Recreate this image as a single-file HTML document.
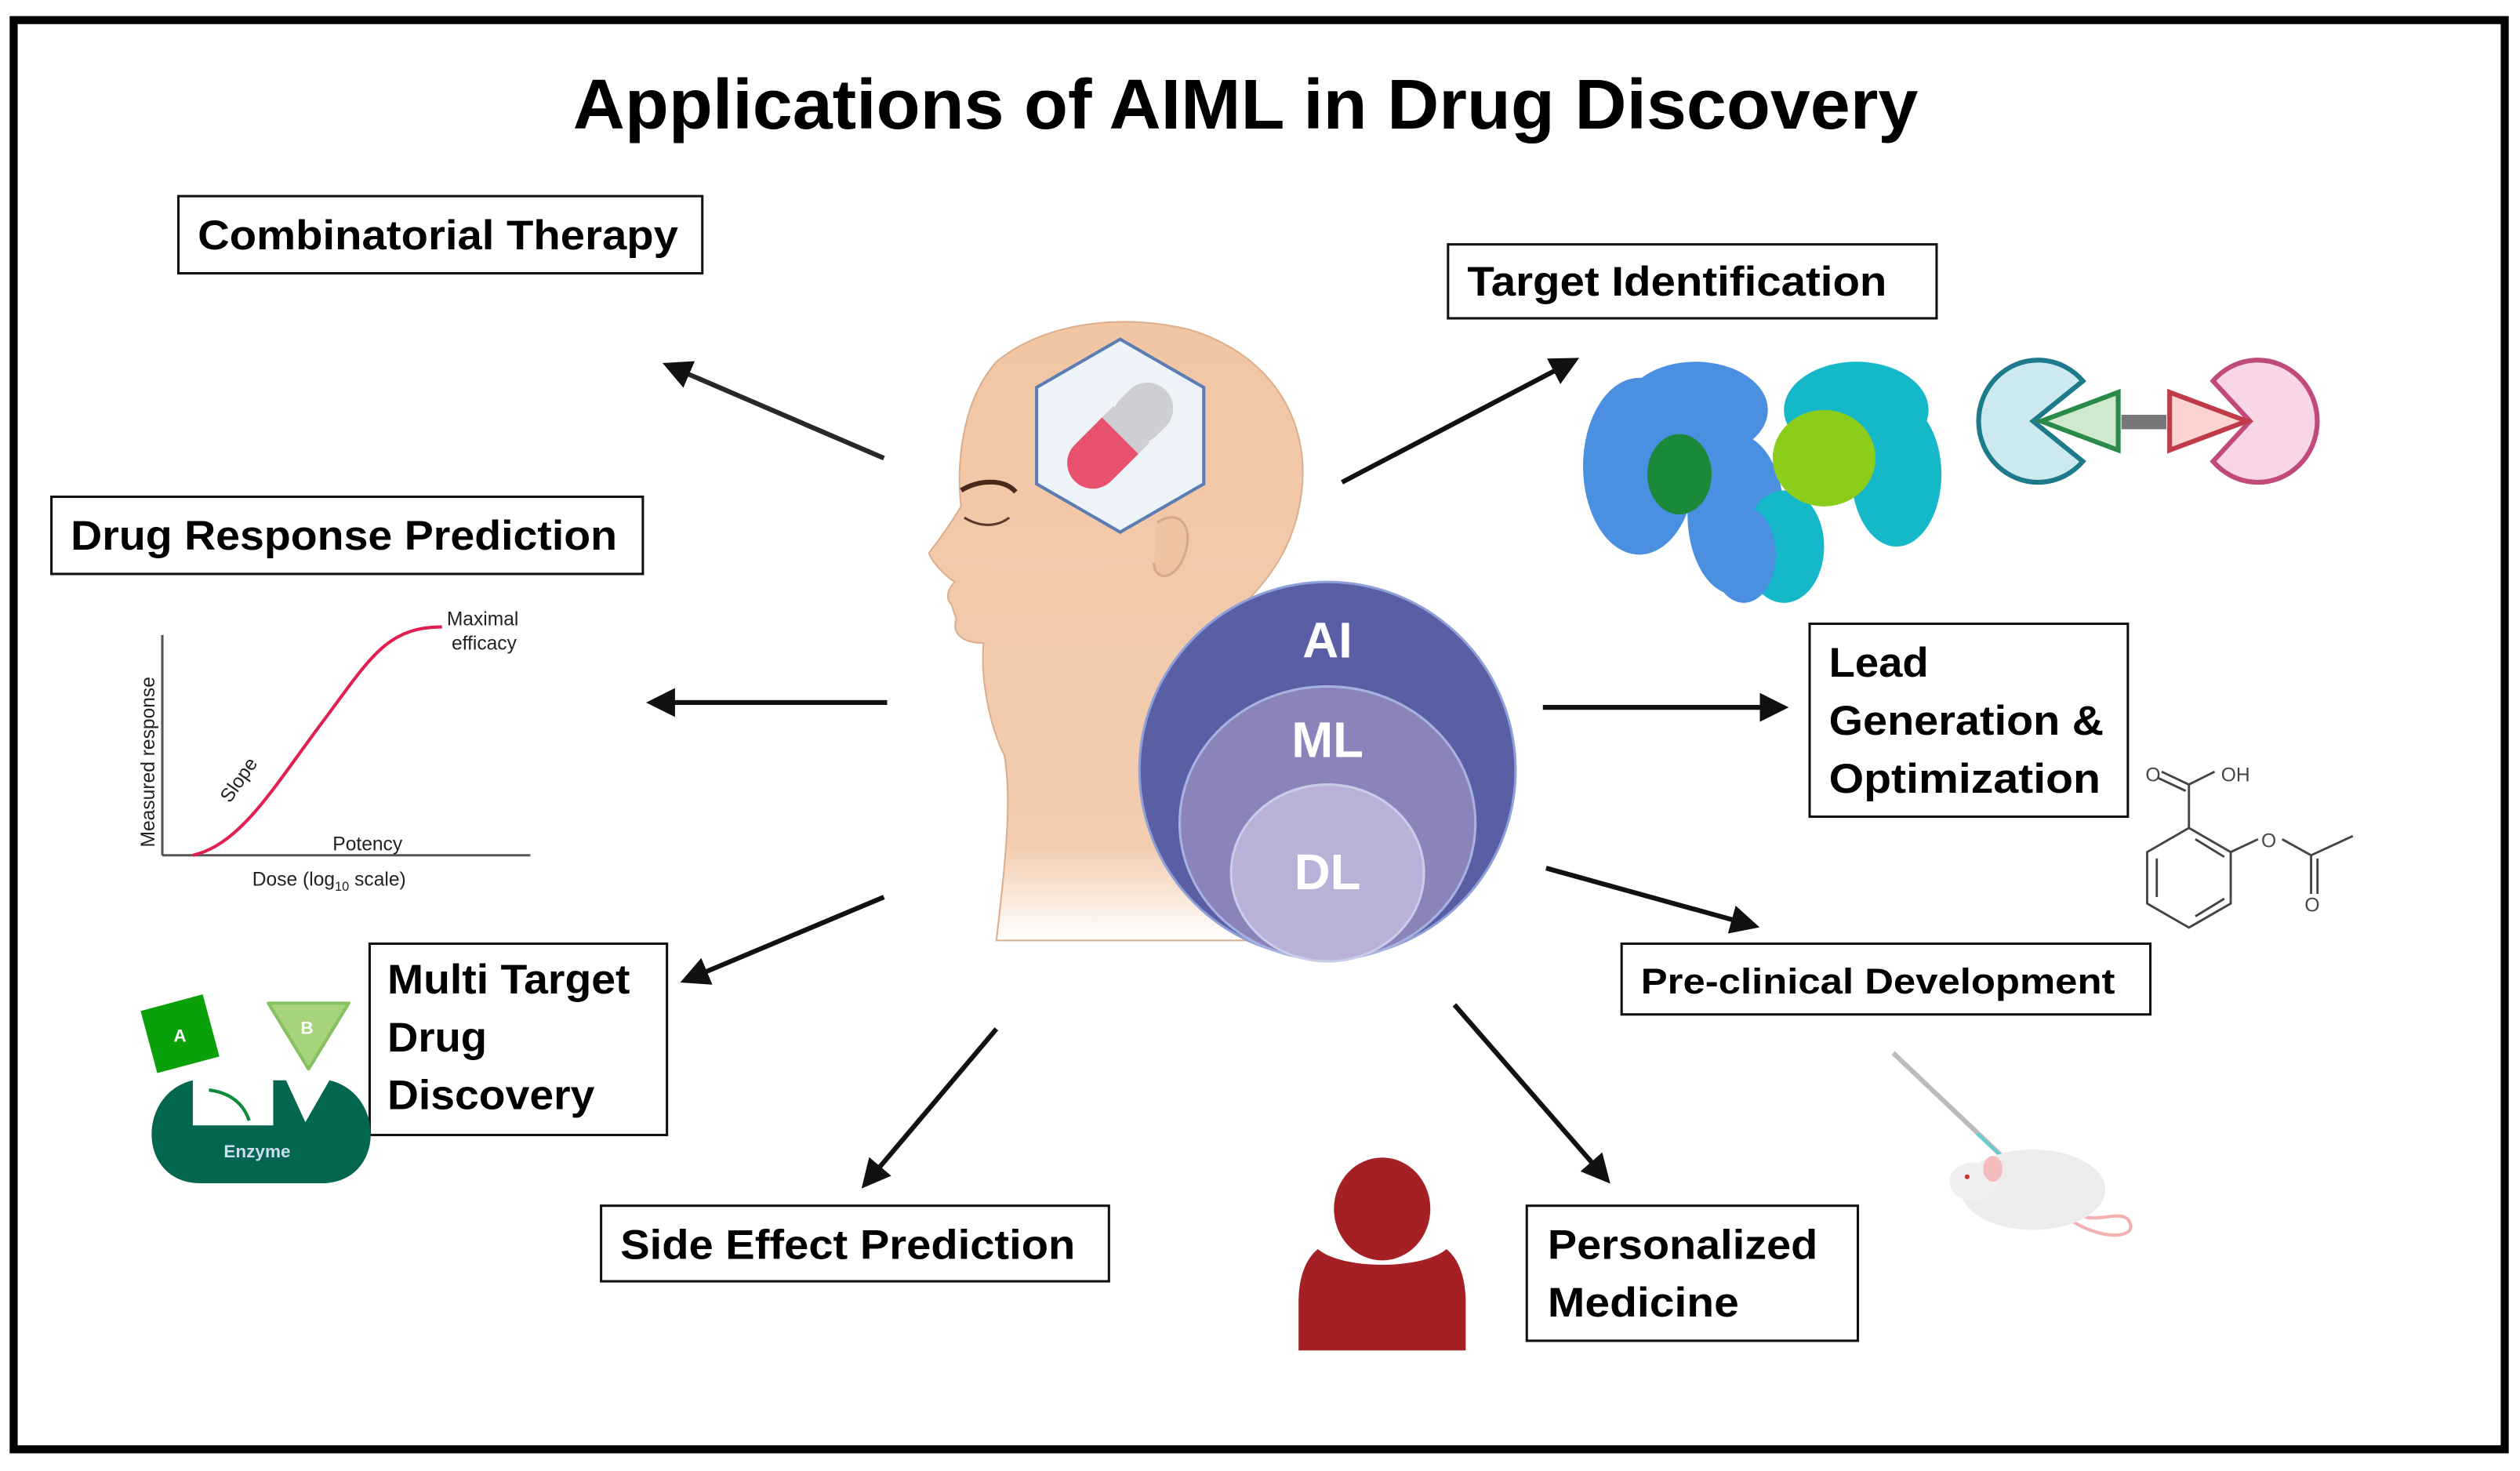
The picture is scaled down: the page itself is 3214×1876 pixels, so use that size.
<!DOCTYPE html>
<html><head><meta charset="utf-8"><style>
html,body{margin:0;padding:0;background:#fff;}
svg{display:block;}
text{font-family:"Liberation Sans",sans-serif;}
</style></head><body>
<svg width="3214" height="1876" viewBox="0 0 1568 915" preserveAspectRatio="none" xmlns="http://www.w3.org/2000/svg">
<defs>
<marker id="ah" markerWidth="6" markerHeight="6" refX="5" refY="3" orient="auto" markerUnits="strokeWidth">
<path d="M0,0 L6,3 L0,6 Z" fill="#111"/></marker>
<linearGradient id="skin" x1="0" y1="0" x2="0" y2="1"><stop offset="0" stop-color="#f1c6a4"/><stop offset="0.85" stop-color="#f3cdb0"/><stop offset="1" stop-color="#fff"/></linearGradient>
</defs>
<rect x="0" y="0" width="1568" height="915" fill="#fff"/>
<rect x="8.5" y="12.5" width="1550" height="889" fill="none" stroke="#000" stroke-width="5"/>
<text x="775" y="80" font-size="44" font-weight="bold" text-anchor="middle" textLength="837" lengthAdjust="spacingAndGlyphs">Applications of AIML in Drug Discovery</text>

<!-- arrows -->
<g stroke="#111" stroke-width="3" fill="none" marker-end="url(#ah)">
<line x1="550" y1="285" x2="415" y2="227" stroke-opacity="0.9"/>
<line x1="835" y1="300" x2="980" y2="224"/>
<line x1="552" y1="437" x2="405" y2="437"/>
<line x1="960" y1="440" x2="1110" y2="440"/>
<line x1="550" y1="558" x2="426" y2="610"/>
<line x1="962" y1="540" x2="1092" y2="576"/>
<line x1="620" y1="640" x2="538" y2="737"/>
<line x1="905" y1="625" x2="1000" y2="734"/>
</g>

<!-- head -->
<path d="M620,585 C625,540 630,500 625,470 C615,450 610,420 612,400 C600,400 592,395 595,385 L592,376 C588,372 590,366 594,362 C588,358 580,350 578,344 C585,335 592,325 598,315 C595,290 598,250 620,225 C650,200 700,195 740,205 C790,220 815,260 810,305 C806,340 790,360 770,380 C760,420 760,460 770,500 C790,540 800,570 800,585 Z" fill="url(#skin)" stroke="#dcae8c" stroke-width="1"/>
<path d="M598,305 C610,298 625,298 632,306" stroke="#4a2a1a" stroke-width="3" fill="none"/>
<path d="M600,322 C610,328 620,328 628,322" stroke="#5a3a2a" stroke-width="1.5" fill="none"/>
<path d="M720,325 C735,315 745,330 735,350 C728,362 718,360 718,350" stroke="#d9a888" stroke-width="1.5" fill="#f0c3a1"/>
<polygon points="697,211 749,241 749,301 697,331 645,301 645,241" fill="#eef3f9" stroke="#5b7db3" stroke-width="2"/>
<g transform="rotate(45 697 271)">
<rect x="681" y="231" width="32" height="40" rx="16" fill="#cfcfd3"/>
<rect x="681" y="261" width="32" height="15" fill="#cfcfd3"/>
<path d="M681,271 L713,271 L713,295 A16,16 0 0 1 681,295 Z" fill="#e8526f"/>
</g>

<!-- circles -->
<circle cx="826" cy="479" r="117" fill="#5a5ea4" stroke="#8ea0d8" stroke-width="1.5"/>
<ellipse cx="826" cy="512" rx="92" ry="85" fill="#8a84bb" stroke="#a6b3e0" stroke-width="1.5"/>
<ellipse cx="826" cy="543" rx="60" ry="55" fill="#b9b1d8" stroke="#c9cde8" stroke-width="1.5"/>
<g fill="#fff" font-weight="bold" text-anchor="middle" font-size="31">
<text x="826" y="409">AI</text><text x="826" y="471">ML</text><text x="826" y="553">DL</text></g>

<!-- boxes -->
<g fill="#fff" stroke="#111" stroke-width="1.5">
<rect x="111" y="122" width="326" height="48"/>
<rect x="901" y="152" width="304" height="46"/>
<rect x="32" y="309" width="368" height="48"/>
<rect x="1126" y="388" width="198" height="120"/>
<rect x="230" y="587" width="185" height="119"/>
<rect x="1009" y="587" width="329" height="44"/>
<rect x="374" y="750" width="316" height="47"/>
<rect x="950" y="750" width="206" height="84"/>
</g>
<g fill="#000" font-weight="bold" font-size="26">
<text x="123" y="155" textLength="299" lengthAdjust="spacingAndGlyphs">Combinatorial Therapy</text>
<text x="913" y="184" textLength="261" lengthAdjust="spacingAndGlyphs">Target Identification</text>
<text x="44" y="342" textLength="340" lengthAdjust="spacingAndGlyphs">Drug Response Prediction</text>
<text x="1138" y="421" textLength="62" lengthAdjust="spacingAndGlyphs">Lead</text>
<text x="1138" y="457" textLength="171" lengthAdjust="spacingAndGlyphs">Generation &amp;</text>
<text x="1138" y="493" textLength="169" lengthAdjust="spacingAndGlyphs">Optimization</text>
<text x="241" y="618" textLength="151" lengthAdjust="spacingAndGlyphs">Multi Target</text>
<text x="241" y="654" textLength="62" lengthAdjust="spacingAndGlyphs">Drug</text>
<text x="241" y="690" textLength="129" lengthAdjust="spacingAndGlyphs">Discovery</text>
<text x="1021" y="618" font-size="22" textLength="295" lengthAdjust="spacingAndGlyphs">Pre-clinical Development</text>
<text x="386" y="783" textLength="283" lengthAdjust="spacingAndGlyphs">Side Effect Prediction</text>
<text x="963" y="783" textLength="168" lengthAdjust="spacingAndGlyphs">Personalized</text>
<text x="963" y="819" textLength="119" lengthAdjust="spacingAndGlyphs">Medicine</text>
</g>

<!-- protein -->
<g>
<ellipse cx="1020" cy="290" rx="35" ry="55" fill="#4a8fe0"/>
<ellipse cx="1055" cy="255" rx="45" ry="30" fill="#4a8fe0"/>
<ellipse cx="1080" cy="320" rx="30" ry="50" fill="#4a8fe0"/>
<ellipse cx="1045" cy="295" rx="20" ry="25" fill="#1a8a3a"/>
<ellipse cx="1155" cy="255" rx="45" ry="30" fill="#14b8c8"/>
<ellipse cx="1180" cy="295" rx="28" ry="45" fill="#14b8c8"/>
<ellipse cx="1110" cy="340" rx="25" ry="35" fill="#14b8c8"/>
<ellipse cx="1135" cy="285" rx="32" ry="30" fill="#8ccc1a"/>
<ellipse cx="1085" cy="345" rx="20" ry="30" fill="#4a8fe0"/>
</g>
<!-- pacmen -->
<path d="M1296,237 A37,38 0 1 0 1296,287 L1265,262 Z" fill="#cde9f0" stroke="#1c7a8a" stroke-width="3"/>
<polygon points="1270,262 1318,244 1318,280" fill="#cfe9cf" stroke="#2a8a4a" stroke-width="3"/>
<rect x="1320" y="258" width="28" height="9" fill="#777"/>
<path d="M1377,237 A37,38 0 1 1 1377,287 L1400,262 Z" fill="#f8d6e6" stroke="#c04a7a" stroke-width="3"/>
<polygon points="1398,262 1350,244 1350,280" fill="#fbd3d3" stroke="#c03a4a" stroke-width="3"/>

<!-- dose response -->
<g stroke="#555" stroke-width="1.5" fill="none"><line x1="101" y1="395" x2="101" y2="532"/><line x1="101" y1="532" x2="330" y2="532"/></g>
<path d="M120,532 C150,525 170,490 200,450 C230,410 240,390 275,390" stroke="#e02050" stroke-width="2" fill="none"/>
<g font-size="12" fill="#222">
<text x="278" y="389">Maximal</text><text x="281" y="404">efficacy</text>
<text x="207" y="529">Potency</text>
<text x="157" y="551">Dose (log<tspan font-size="8" dy="3">10</tspan><tspan dy="-3"> scale)</tspan></text>
<text transform="translate(96,527) rotate(-90)">Measured response</text>
<text transform="translate(143,500) rotate(-55)">Slope</text>
</g>

<!-- enzyme -->
<path d="M120,672 L120,700 L170,700 L170,672 L178,672 L190,698 L205,672 C240,680 240,736 200,736 L125,736 C85,736 85,680 120,672 Z" fill="#026650"/>
<path d="M130,678 C145,680 152,688 155,697" stroke="#0a8a3a" stroke-width="2" fill="none"/>
<text x="160" y="720" font-size="11" fill="#cde" text-anchor="middle" font-weight="bold">Enzyme</text>
<g transform="rotate(-15 112 643)"><rect x="92" y="623" width="40" height="40" fill="#0aa00a"/></g>
<text x="112" y="648" font-size="11" fill="#fff" font-weight="bold" text-anchor="middle">A</text>
<polygon points="167,624 217,624 192,665" fill="#a7d47a" stroke="#86c060" stroke-width="2" stroke-linejoin="round"/>
<text x="191" y="643" font-size="11" fill="#fff" font-weight="bold" text-anchor="middle">B</text>

<!-- aspirin -->
<g stroke="#444" stroke-width="1.4" fill="none">
<polygon points="1362,515 1388,530 1388,562 1362,577 1336,562 1336,530"/>
<line x1="1342" y1="534" x2="1342" y2="558"/><line x1="1366" y1="570" x2="1384" y2="559"/><line x1="1366" y1="522" x2="1384" y2="533"/>
<line x1="1362" y1="515" x2="1362" y2="488"/><line x1="1362" y1="488" x2="1345" y2="480"/><line x1="1360" y1="492" x2="1343" y2="484"/><line x1="1362" y1="488" x2="1378" y2="480"/>
<line x1="1388" y1="530" x2="1405" y2="522"/><line x1="1420" y1="522" x2="1438" y2="532"/><line x1="1438" y1="532" x2="1464" y2="520"/><line x1="1438" y1="532" x2="1438" y2="556"/><line x1="1442" y1="534" x2="1442" y2="556"/>
</g>
<g font-size="12" fill="#444"><text x="1335" y="486">O</text><text x="1382" y="486">OH</text><text x="1407" y="527">O</text><text x="1434" y="567">O</text></g>

<!-- mouse and syringe -->
<line x1="1178" y1="655" x2="1255" y2="728" stroke="#bbb" stroke-width="3"/>
<line x1="1230" y1="705" x2="1255" y2="728" stroke="#6cc" stroke-width="2"/>
<path d="M1290,760 C1310,772 1330,770 1325,760 C1320,750 1300,765 1290,752" stroke="#f2b0b0" stroke-width="2" fill="none"/>
<ellipse cx="1265" cy="740" rx="45" ry="25" fill="#ececec"/>
<ellipse cx="1228" cy="735" rx="15" ry="12" fill="#efefef"/>
<ellipse cx="1240" cy="727" rx="6" ry="8" fill="#f4bcbc"/>
<circle cx="1224" cy="732" r="1.5" fill="#c33"/>

<!-- person -->
<ellipse cx="860" cy="752" rx="30" ry="32" fill="#a52025"/>
<path d="M820,777 C835,790 885,790 900,777 C910,785 912,800 912,810 L912,840 L808,840 L808,810 C808,800 810,785 820,777 Z" fill="#a52025"/>
</svg>
</body></html>
